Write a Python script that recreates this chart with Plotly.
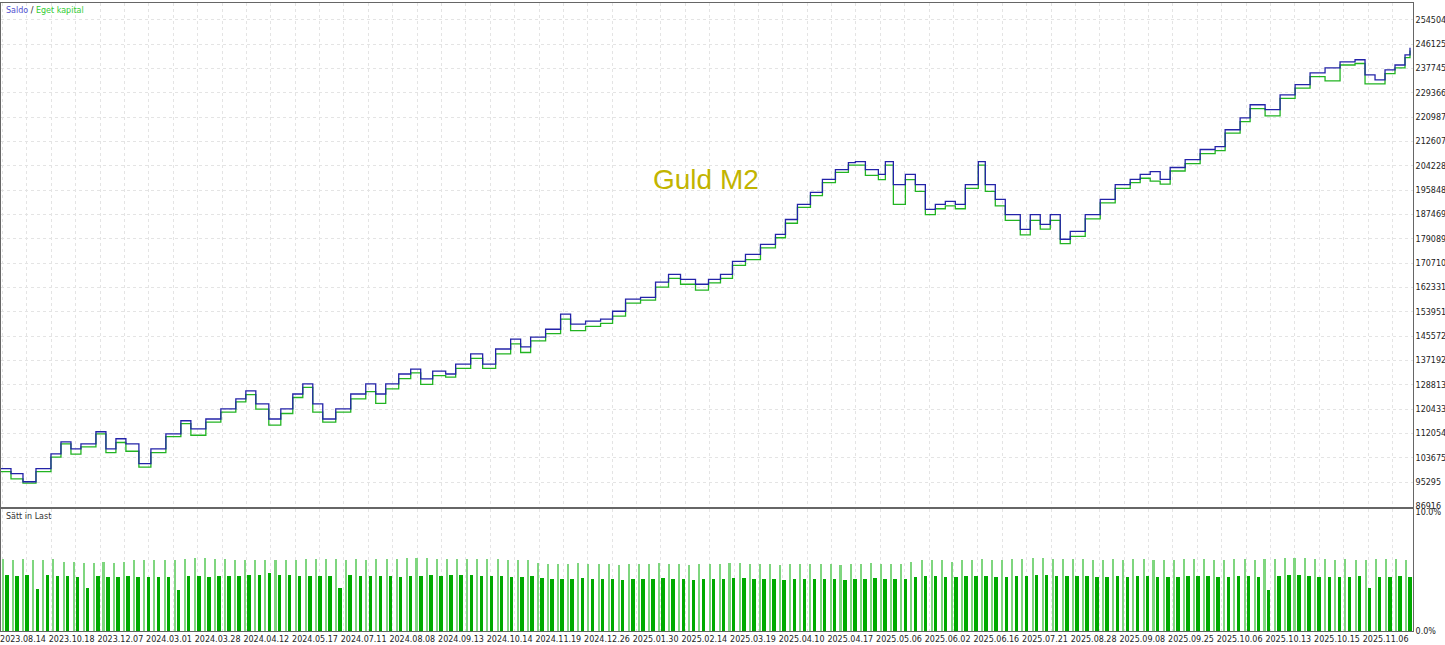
import numpy as np
import plotly.graph_objects as go

# time position of each sampled point (bar-index scale, 0..1413)
t = [0, 10, 22, 35, 50, 60, 70, 80, 95, 105, 115, 125, 138, 150, 165, 180, 190, 205, 220, 235,
     245, 255, 268, 280, 292, 302, 312, 322, 335, 350, 365, 375, 385, 398, 410, 420, 432, 445, 455, 470,
     482, 495, 510, 520, 530, 545, 560, 570, 585, 600, 612, 625, 640, 655, 668, 680, 695, 708, 720, 732,
     745, 760, 775, 785, 797, 810, 822, 835, 848, 855, 865, 878, 885, 893, 905, 915, 925, 935, 945, 955,
     965, 978, 985, 995, 1005, 1020, 1030, 1040, 1050, 1060, 1070, 1085, 1100, 1115, 1130, 1140, 1150, 1160, 1170, 1185,
     1200, 1215, 1225, 1240, 1250, 1265, 1280, 1295, 1310, 1325, 1340, 1355, 1365, 1375, 1385, 1395, 1405, 1410]

# balance in thousands
saldo = [100.0, 98.3, 95.5, 100.0, 105.1, 109.2, 106.8, 108.5, 112.7, 106.8, 110.3, 108.5, 101.7, 106.8, 112.0, 116.5, 113.7, 117.1, 120.6, 124.0,
         126.8, 122.3, 117.1, 120.6, 125.7, 129.2, 122.3, 117.1, 120.6, 125.7, 129.2, 125.7, 129.2, 132.6, 134.3, 130.9, 133.6, 132.6, 136.0, 139.5,
         136.0, 141.2, 144.6, 141.9, 145.3, 148.0, 153.2, 149.8, 150.8, 151.5, 154.2, 158.4, 159.0, 164.2, 166.9, 165.2, 163.5, 165.2, 166.9, 171.4,
         173.8, 177.2, 180.7, 185.8, 191.0, 195.1, 199.6, 203.0, 205.4, 205.7, 203.0, 201.3, 205.7, 197.8, 201.3, 197.8, 189.3, 191.0, 192.0, 191.0,
         197.8, 205.7, 197.8, 192.7, 187.5, 182.4, 187.5, 184.1, 187.5, 179.0, 181.7, 187.5, 192.7, 197.8, 199.6, 201.3, 202.3, 199.6, 203.7, 206.4,
         209.9, 210.9, 216.7, 220.8, 225.3, 223.6, 228.7, 232.2, 236.3, 238.0, 240.1, 240.8, 235.6, 233.9, 237.3, 239.0, 242.5, 244.9]

# equity in thousands (dips below balance during open trades)
eget = [99.0, 96.5, 95.0, 99.0, 104.0, 108.5, 105.0, 107.5, 112.0, 105.5, 109.0, 106.0, 100.5, 105.5, 111.0, 115.5, 111.5, 116.0, 119.5, 123.0,
        125.5, 120.5, 115.0, 119.0, 124.5, 128.0, 119.5, 116.0, 119.5, 124.0, 126.5, 122.5, 127.5, 131.0, 133.0, 129.0, 132.0, 131.5, 134.5, 138.0,
        134.5, 139.5, 143.0, 140.0, 144.0, 146.5, 151.5, 147.5, 149.0, 150.0, 152.5, 157.0, 158.0, 162.5, 165.5, 163.5, 161.5, 164.0, 165.5, 170.0,
        172.0, 176.0, 179.5, 184.5, 190.0, 194.0, 198.5, 202.0, 204.5, 204.5, 201.0, 199.5, 204.5, 191.0, 199.5, 195.5, 187.5, 189.5, 190.5, 189.5,
        196.5, 204.5, 195.5, 190.5, 185.5, 180.5, 185.5, 182.5, 185.5, 177.5, 180.0, 186.0, 191.5, 196.5, 198.5, 200.0, 199.0, 198.0, 202.5, 205.0,
        208.5, 209.5, 215.5, 219.5, 224.0, 221.5, 227.5, 231.0, 235.0, 233.5, 239.0, 239.5, 232.5, 232.5, 236.0, 238.0, 241.5, 244.0]

y_ticks = [86916, 95295, 103675, 112054, 120433, 128813, 137192, 145572, 153951, 162331, 170710,
           179089, 187469, 195848, 204228, 212607, 220987, 229366, 237745, 246125, 254504]

date_labels = ["2023.08.14", "2023.10.18", "2023.12.07", "2024.03.01", "2024.03.28", "2024.04.12", "2024.05.17",
               "2024.07.11", "2024.08.08", "2024.09.13", "2024.10.14", "2024.11.19", "2024.12.26", "2025.01.30",
               "2025.02.14", "2025.03.19", "2025.04.10", "2025.04.17", "2025.05.06", "2025.06.02", "2025.06.16",
               "2025.07.21", "2025.08.28", "2025.09.08", "2025.09.25", "2025.10.06", "2025.10.13", "2025.10.15", "2025.11.06"]

# load (%) per trade pair: light = max load, dark = load
last_max = [6.1, 6.0, 6.1, 6.0, 6.0, 6.1, 5.9, 5.9, 5.8, 5.8, 5.9, 5.8, 5.9, 6.0, 6.0, 6.0, 6.0, 6.0, 6.1, 6.2,
            6.2, 6.1, 6.1, 6.0, 6.0, 6.0, 6.0, 6.0, 6.0, 6.0, 6.1, 6.1, 6.1, 6.1, 6.0, 6.1, 6.0, 6.1, 6.1, 6.1,
            6.2, 6.2, 6.2, 6.1, 6.1, 6.1, 6.1, 6.1, 6.1, 6.1, 6.0, 6.0, 6.0, 5.8, 5.7, 5.7, 5.7, 5.8, 5.7, 5.7,
            5.7, 5.6, 5.7, 5.7, 5.7, 5.8, 5.7, 5.7, 5.6, 5.7, 5.7, 5.7, 5.8, 5.8, 5.7, 5.7, 5.7, 5.6, 5.7, 5.7,
            5.7, 5.7, 5.7, 5.6, 5.7, 5.7, 5.8, 5.7, 5.7, 5.7, 5.9, 6.0, 6.0, 6.0, 5.9, 6.0, 6.0, 6.1, 6.0, 6.0,
            6.1, 6.1, 6.2, 6.2, 6.1, 6.1, 6.1, 6.1, 6.0, 6.0, 6.1, 6.0, 6.1, 6.1, 6.0, 6.0, 6.0, 6.1, 6.1, 6.1,
            6.0, 6.0, 6.1, 6.1, 6.0, 6.1, 6.1, 6.2, 6.2, 6.2, 6.1, 6.1, 6.0, 6.1, 6.0, 6.0, 6.1, 6.1, 6.1, 6.0]
last = [4.8, 4.7, 4.8, 3.6, 4.8, 4.7, 4.7, 4.6, 3.7, 4.7, 4.6, 4.6, 4.7, 4.6, 4.6, 4.6, 4.6, 3.5, 4.7, 4.7,
        4.6, 4.7, 4.7, 4.7, 4.8, 4.8, 4.9, 4.8, 4.8, 4.7, 4.7, 4.7, 4.7, 3.7, 4.8, 4.7, 4.7, 4.7, 4.7, 4.6,
        4.7, 4.7, 4.8, 4.7, 4.8, 4.8, 4.8, 4.7, 4.7, 4.7, 4.6, 4.6, 4.7, 4.5, 4.4, 4.4, 4.4, 4.5, 4.4, 4.4,
        4.4, 4.3, 4.4, 4.4, 4.4, 4.5, 4.4, 4.4, 4.3, 4.4, 4.4, 4.4, 4.5, 4.5, 4.4, 4.4, 4.4, 4.3, 4.4, 4.4,
        4.4, 4.4, 4.4, 4.3, 4.4, 4.4, 4.5, 4.4, 4.4, 4.4, 4.6, 4.7, 4.7, 4.6, 4.6, 4.7, 4.7, 4.7, 4.6, 4.6,
        4.7, 4.7, 4.8, 4.8, 4.7, 4.7, 4.7, 4.7, 4.6, 4.6, 4.7, 4.6, 4.7, 4.7, 4.6, 4.6, 4.6, 4.7, 4.7, 4.7,
        4.6, 4.6, 4.7, 4.7, 4.6, 3.5, 4.7, 4.8, 4.8, 4.7, 4.6, 4.6, 4.6, 4.6, 4.7, 3.7, 4.6, 4.6, 4.7, 4.6]

X_MAX = 1413
bar_x = np.linspace(4, 1408, len(last))

fig = go.Figure()
fig.add_trace(go.Scatter(x=t, y=eget, mode="lines", line=dict(color="#22b422", width=1.3, shape="hv"),
                         xaxis="x", yaxis="y", showlegend=False))
fig.add_trace(go.Scatter(x=t, y=saldo, mode="lines", line=dict(color="#2323a8", width=1.3, shape="hv"),
                         xaxis="x", yaxis="y", showlegend=False))
fig.add_trace(go.Bar(x=bar_x - 2, y=last_max, width=2, marker=dict(color="#7fd67f", line_width=0),
                     xaxis="x2", yaxis="y2", showlegend=False))
fig.add_trace(go.Bar(x=bar_x + 2, y=last, width=3.5, marker=dict(color="#00aa00", line_width=0),
                     xaxis="x2", yaxis="y2", showlegend=False))

grid = dict(showgrid=True, gridcolor="#e4e4e4", griddash="dot", gridwidth=1)
frame = dict(showline=True, mirror=True, linecolor="#666", zeroline=False, automargin=False)
fig.update_layout(
    width=1445, height=645, paper_bgcolor="white", plot_bgcolor="white",
    margin=dict(l=1, r=32, t=3, b=14), barmode="overlay", bargap=0,
    font=dict(family="DejaVu Sans", size=8, color="#222"),
    xaxis=dict(domain=[0, 1], range=[0, X_MAX], tick0=1.6, dtick=24.4, showticklabels=False, ticks="",
               **frame, **grid),
    yaxis=dict(domain=[0.198, 1], range=[86.916, 260.34], side="right",
               tickvals=[v / 1000 for v in y_ticks], ticktext=[str(v) for v in y_ticks],
               ticks="", **frame, **grid),
    xaxis2=dict(domain=[0, 1], range=[0, X_MAX], anchor="y2", showgrid=False,
                tickvals=[22 + 48.7 * i for i in range(len(date_labels))], ticktext=date_labels,
                ticks="", ticklabelstandoff=0,
                minor=dict(tick0=1.6, dtick=24.4, showgrid=True, gridcolor="#e4e4e4", griddash="dot", ticks=""),
                **frame),
    yaxis2=dict(domain=[0, 0.195], range=[0, 10.33], side="right", anchor="x2",
                tickvals=[0, 10], ticktext=["0.0%", "10.0%"], showgrid=False, ticks="", **frame),
)
fig.add_annotation(x=0.002, y=0.999, xref="paper", yref="paper", xanchor="left", yanchor="top",
                   showarrow=False, font=dict(size=8),
                   text="<span style='color:#5050d0'>Saldo</span> / <span style='color:#33cc33'>Eget kapital</span>")
fig.add_annotation(x=0.002, y=0.192, xref="paper", yref="paper", xanchor="left", yanchor="top",
                   showarrow=False, font=dict(size=8, color="#333"), text="Sätt in Last")
fig.add_annotation(x=705, y=199.5, xref="x", yref="y", showarrow=False,
                   font=dict(family="Liberation Sans", size=28, color="#c2b400"), text="Guld M2")

fig.write_html("out.html", config={"displayModeBar": False},
               post_script="document.body.style.margin='0';document.body.style.overflow='hidden';")
